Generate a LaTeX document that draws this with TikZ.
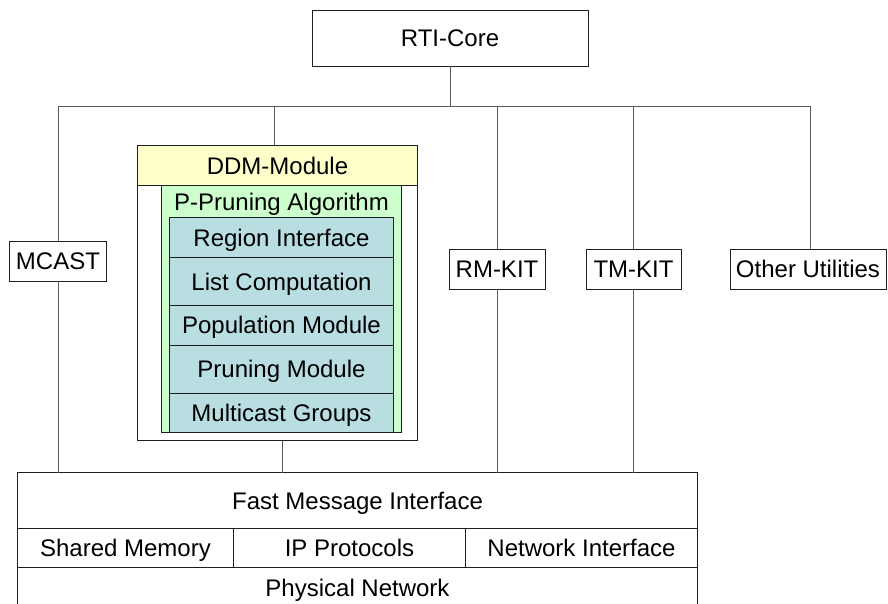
\documentclass[tikz,border=0pt]{standalone}
\usepackage{fontspec}
\setmainfont{Liberation Sans}
\definecolor{hdryellow}{RGB}{255,255,204}
\definecolor{algogreen}{RGB}{204,255,204}
\definecolor{modblue}{RGB}{184,222,226}
\definecolor{bordercol}{RGB}{30,30,30}
\definecolor{wirecol}{RGB}{90,90,90}
\tikzset{
  txt/.style={font=\fontsize{24}{28}\selectfont, text=black, text height=18pt, text depth=0.5pt},
  box/.style={txt, draw=bordercol, line width=0.9pt, fill=white, inner sep=0pt, outer sep=0pt},
  wire/.style={draw=wirecol, line width=0.9pt},
}
\begin{document}
\begin{tikzpicture}[x=1pt,y=-1pt]
\useasboundingbox (0,0) rectangle (888,604);
% top
\node[box, minimum width=276, minimum height=56] (rti) at (450,38) {RTI-Core};
\coordinate (busL) at (58,106);
\coordinate (busR) at (810,106);
% side utilities
\node[box, minimum width=97, minimum height=40] (mcast) at (58,261) {MCAST};
\node[box, minimum width=96, minimum height=40] (rmkit) at (497,269) {RM-KIT};
\node[box, minimum width=95, minimum height=40] (tmkit) at (633.5,269) {TM-KIT};
\node[box, minimum width=156, minimum height=40] (oth) at (808,269) {Other Utilities};
% DDM module
\node[box, minimum width=280, minimum height=295] (ddm) at (277.5,293) {};
\node[box, fill=hdryellow, minimum width=280, minimum height=40] (ddmh) at (277.5,165.5) {DDM-Module};
\node[box, fill=algogreen, minimum width=240, minimum height=247] (ppa) at (281.5,309) {};
\node[txt, inner sep=0pt] (ppal) at (281.5,201.5) {P-Pruning Algorithm};
\node[box, fill=modblue, minimum width=224, minimum height=40, anchor=north] (r1) at (281.5,217.5) {Region Interface};
\node[box, fill=modblue, minimum width=224, minimum height=47.5, anchor=north] (r2) at (r1.south) {List Computation};
\node[box, fill=modblue, minimum width=224, minimum height=40, anchor=north] (r3) at (r2.south) {Population Module};
\node[box, fill=modblue, minimum width=224, minimum height=48.3, anchor=north] (r4) at (r3.south) {Pruning Module};
\node[box, fill=modblue, minimum width=224, minimum height=39.2, anchor=north] (r5) at (r4.south) {Multicast Groups};
% bottom stack
\node[box, minimum width=680, minimum height=56] (fmi) at (357.5,500.5) {Fast Message Interface};
\node[box, minimum width=216, minimum height=39.2] (shm) at (125.5,548) {Shared Memory};
\node[box, minimum width=232, minimum height=39.2] (ipp) at (349.5,548) {IP Protocols};
\node[box, minimum width=232, minimum height=39.2] (nif) at (581.5,548) {Network Interface};
\node[box, minimum width=680, minimum height=41] (phy) at (357.5,588) {Physical Network};
% connectors
\draw[wire] (rti.south) -- (rti.south |- busL);
\draw[wire] (busL) -- (busR);
\draw[wire] (mcast.north) -- (mcast.north |- busL);
\draw[wire] ([xshift=-3.5pt]ddmh.north) -- ([xshift=-3.5pt]ddmh.north |- busL);
\draw[wire] (rmkit.north) -- (rmkit.north |- busL);
\draw[wire] (tmkit.north) -- (tmkit.north |- busL);
\draw[wire] ([xshift=2pt]oth.north) -- ([xshift=2pt]oth.north |- busR);
\draw[wire] (mcast.south) -- (mcast.south |- fmi.north);
\draw[wire] ([xshift=4.5pt]ddm.south) -- ([xshift=4.5pt]ddm.south |- fmi.north);
\draw[wire] (rmkit.south) -- (rmkit.south |- fmi.north);
\draw[wire] (tmkit.south) -- (tmkit.south |- fmi.north);
\end{tikzpicture}
\end{document}
